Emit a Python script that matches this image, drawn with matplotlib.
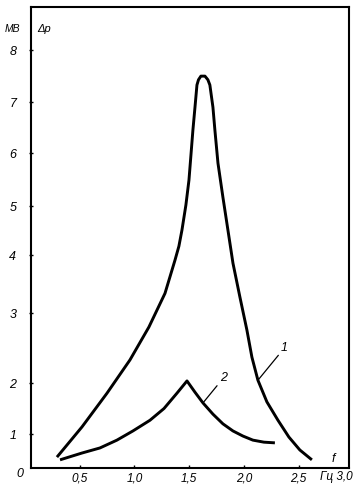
import numpy as np
import matplotlib
matplotlib.use("Agg")
import matplotlib.pyplot as plt

# Curve 1 (f in Hz, delta p in mV)
f1 = [0.292, 0.521, 0.749, 0.959, 1.132, 1.279, 1.370, 1.406, 1.434, 1.470, 1.498,
      1.516, 1.534, 1.553, 1.571, 1.585, 1.607, 1.644, 1.671, 1.689, 1.717, 1.735, 1.763,
      1.808, 1.854, 1.900, 1.963, 2.027, 2.073, 2.128, 2.210, 2.311, 2.411, 2.511, 2.621]
p1 = [0.32, 1.14, 1.80, 2.33, 2.80, 3.34, 3.91, 4.18, 4.51, 5.02, 5.49,
      5.96, 6.45, 6.90, 7.33, 7.43, 7.50, 7.50, 7.43, 7.33, 6.90, 6.45, 5.81,
      5.17, 4.51, 3.86, 3.28, 2.76, 2.37, 2.04, 1.63, 1.27, 0.91, 0.53, 0.24]
# Curve 2
f2 = [0.320, 0.520, 0.685, 0.840, 0.986, 1.142, 1.270, 1.388, 1.480,
      1.553, 1.626, 1.717, 1.808, 1.900, 1.991, 2.082, 2.183, 2.283]
p2 = [0.24, 0.44, 0.59, 0.82, 1.06, 1.27, 1.50, 1.80, 2.03,
      1.82, 1.61, 1.39, 1.20, 1.06, 0.94, 0.82, 0.76, 0.74]

xticks = [0.5, 1.0, 1.5, 2.0, 2.5]
xticklabels = ["0,5", "1,0", "1,5", "2,0", "2,5"]
yticks = [1, 2, 3, 4, 5, 6, 7, 8]
yticklabels = ["1", "2", "3", "4", "5", "6", "7", "8"]

# Hand-drawn (non-uniform) value axis of the original, as a piecewise-linear scale
scale_v = [-100, 0, 1, 2, 3, 4, 5, 6, 7, 8, 100]
scale_p = [-3400, 0, 34, 85, 155, 213, 262, 315, 366, 418, 418 + 92 * 52]

def fwd(v):
    return np.interp(v, scale_v, scale_p)

def inv(p):
    return np.interp(p, scale_p, scale_v)

FONT = ["Liberation Sans Narrow", "Liberation Sans", "DejaVu Sans"]

fig = plt.figure(figsize=(3.56, 4.90), dpi=100)
ax = fig.add_axes([31 / 356, 22 / 490, (349 - 31) / 356, (468 - 7) / 490])
ax.set_yscale("function", functions=(fwd, inv))

ax.plot(f1, p1, color="black", lw=2.1, solid_capstyle="butt", solid_joinstyle="round")
ax.plot(f2, p2, color="black", lw=2.1, solid_capstyle="butt", solid_joinstyle="round")

ax.set_xlim(0.055, 2.96)
ax.set_ylim(0, 8.83)

for s in ax.spines.values():
    s.set_linewidth(1.5)
    s.set_color("black")

ax.set_xticks(xticks)
ax.set_xticklabels(xticklabels, fontstyle="italic", family=FONT, fontsize=8.5)
ax.set_yticks(yticks)
ax.set_yticklabels(yticklabels, fontstyle="italic", family=FONT, fontsize=9)
ax.yaxis.set_minor_locator(matplotlib.ticker.NullLocator())
ax.tick_params(axis="y", direction="inout", length=3, width=1, pad=9)
ax.tick_params(axis="x", direction="in", length=2, width=1, pad=3)

# Origin label, units, axis names
fig.text(20 / 356, 1 - 474 / 490, "0", fontstyle="italic", family=FONT, fontsize=9,
         ha="center", va="center")
fig.text(12 / 356, 1 - 29 / 490, "МВ", fontstyle="italic", family=FONT, fontsize=7.5,
         ha="center", va="center")
fig.text(44 / 356, 1 - 29 / 490, "Δp", fontstyle="italic", family=FONT, fontsize=8,
         ha="center", va="center")
fig.text(336 / 356, 1 - 477 / 490, "Гц 3,0", fontstyle="italic", family=FONT, fontsize=8.5,
         ha="center", va="center")
fig.text(333 / 356, 1 - 459 / 490, "f", fontstyle="italic", family=FONT, fontsize=9,
         ha="center", va="center")

# Curve labels with leader lines
ax.annotate("1", xy=(2.128, 2.04), xytext=(2.34, 2.42), fontstyle="italic", family=FONT,
            fontsize=9, ha="left", va="bottom",
            arrowprops=dict(arrowstyle="-", color="black", lw=0.9, shrinkA=0, shrinkB=0))
ax.annotate("2", xy=(1.626, 1.61), xytext=(1.78, 1.98), fontstyle="italic", family=FONT,
            fontsize=9, ha="left", va="bottom",
            arrowprops=dict(arrowstyle="-", color="black", lw=0.9, shrinkA=0, shrinkB=0))

fig.savefig("out.png", dpi=100)
